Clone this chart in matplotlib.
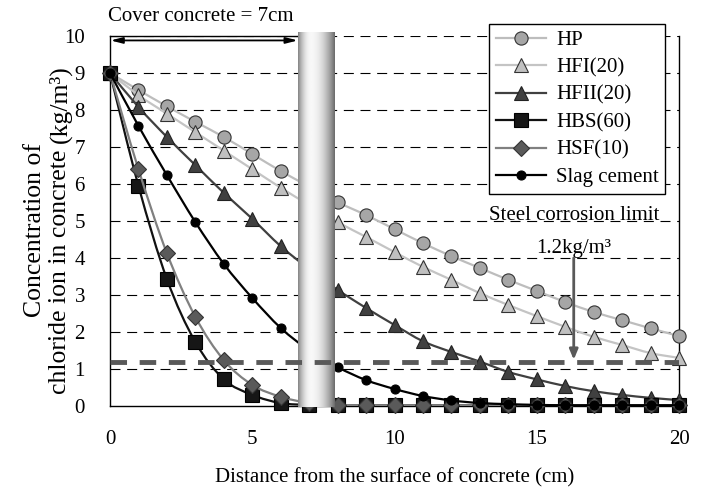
import matplotlib.pyplot as plt
import numpy as np
from matplotlib.lines import Line2D
from matplotlib.path import Path
from matplotlib.patches import PathPatch

plt.rcParams['font.family'] = ['Liberation Serif', 'DejaVu Serif']

distance = list(range(21))
hp = [9.0, 8.54, 8.10, 7.68, 7.27, 6.81, 6.35, 5.93, 5.51, 5.16, 4.78,
      4.40, 4.05, 3.73, 3.41, 3.11, 2.81, 2.54, 2.32, 2.10, 1.89]
hfi = [9.0, 8.40, 7.90, 7.40, 6.90, 6.40, 5.90, 5.43, 4.97, 4.57, 4.16,
       3.76, 3.41, 3.05, 2.73, 2.43, 2.14, 1.87, 1.65, 1.43, 1.30]
hfii = [9.0, 8.08, 7.27, 6.51, 5.76, 5.06, 4.32, 3.70, 3.14, 2.65, 2.19,
        1.75, 1.46, 1.20, 0.92, 0.72, 0.54, 0.40, 0.30, 0.22, 0.16]
hbs = [9.0, 5.95, 3.43, 1.73, 0.72, 0.30, 0.08, 0.03, 0.02, 0.02, 0.02,
       0.02, 0.02, 0.02, 0.02, 0.02, 0.02, 0.02, 0.02, 0.02, 0.02]
hsf = [9.0, 6.40, 4.13, 2.41, 1.24, 0.57, 0.25, 0.08, 0.03, 0.02, 0.02,
       0.02, 0.02, 0.02, 0.02, 0.02, 0.02, 0.02, 0.02, 0.02, 0.02]
slag = [9.0, 7.57, 6.24, 4.97, 3.84, 2.92, 2.11, 1.50, 1.05, 0.70, 0.46,
        0.27, 0.15, 0.08, 0.05, 0.03, 0.02, 0.02, 0.02, 0.02, 0.02]

labels = ['HP', 'HFI(20)', 'HFII(20)', 'HBS(60)', 'HSF(10)', 'Slag cement']
series = [hp, hfi, hfii, hbs, hsf, slag]
# line colour, marker, marker size, marker face, marker edge
styles = [
    ('#bdbdbd', 'o', 9.5, '#a6a6a6', '#333333'),
    ('#c4c4c4', '^', 10, '#c0c0c0', '#333333'),
    ('#404040', '^', 10, '#404040', '#222222'),
    ('#111111', 's', 9.5, '#161616', '#000000'),
    ('#808080', 'D', 8, '#5a5a5a', '#333333'),
    ('#000000', 'o', 6.5, '#000000', '#000000'),
]

limit = 1.2
cover = 7


def smooth_path(x, y):
    # Excel-like smoothed line (Catmull-Rom as cubic Bezier)
    pts = np.column_stack([x, y]).astype(float)
    n = len(pts)
    verts = [pts[0]]
    codes = [Path.MOVETO]
    for i in range(n - 1):
        p0 = pts[max(i - 1, 0)]
        p1 = pts[i]
        p2 = pts[i + 1]
        p3 = pts[min(i + 2, n - 1)]
        verts += [p1 + (p2 - p0) / 6, p2 - (p3 - p1) / 6, p2]
        codes += [Path.CURVE4] * 3
    return Path(verts, codes)


fig = plt.figure(figsize=(7.02, 4.90), dpi=100)
ax = fig.add_axes([110 / 702, 84 / 490, 569 / 702, 370 / 490])

handles = []
for k, (vals, lab, st) in enumerate(zip(series, labels, styles)):
    lc, mk, ms, mf, me = st
    ax.add_patch(PathPatch(smooth_path(distance, vals), fill=False,
                           edgecolor=lc, lw=1.6, zorder=3 + k * 0.1))
    ax.plot(distance, vals, ls='none', marker=mk, ms=ms, mfc=mf, mec=me,
            mew=0.8, zorder=3.05 + k * 0.1, clip_on=False)
    handles.append(Line2D([], [], color=lc, lw=1.6, marker=mk, ms=ms,
                          mfc=mf, mec=me, mew=0.8))

# steel corrosion limit
ax.plot([0, 20], [limit, limit], color='#595959', lw=3.5,
        ls=(0, (3.4, 2.6)), zorder=6)
ax.text(16.3, 5.16, 'Steel corrosion limit', ha='center', va='center',
        fontsize=15)
ax.text(16.3, 4.25, '1.2kg/m³', ha='center', va='center', fontsize=15)
ax.annotate('', xy=(16.3, limit + 0.05), xytext=(16.3, 4.0),
            arrowprops=dict(arrowstyle='-|>,head_length=0.6,head_width=0.25',
                            color='#595959', lw=2, shrinkA=0, shrinkB=0),
            zorder=7)

# cover concrete marker
t = np.linspace(0, 1, 80)
shade = np.where(t < 0.35, 0.97 - 0.45 * ((0.35 - t) / 0.35) ** 2,
                 0.97 - 0.55 * ((t - 0.35) / 0.65) ** 2)
ax.imshow(shade[np.newaxis, :], cmap='gray', vmin=0, vmax=1, aspect='auto',
          extent=[6.6, 7.9, -0.03, 10.08], zorder=5, clip_on=False,
          interpolation='bilinear')
ax.plot([0, 6.6], [10, 10], color='black', lw=1.0, zorder=4, clip_on=False)
ax.annotate('', xy=(0.02, 9.88), xytext=(6.6, 9.88),
            arrowprops=dict(arrowstyle='<|-|>,head_length=0.7,head_width=0.18',
                            color='black', lw=1.3, shrinkA=0, shrinkB=0))
ax.text(3.2, 10.54, 'Cover concrete = %dcm' % cover, ha='center',
        va='center', fontsize=15, clip_on=False)

ax.set_xlim(0, 20)
ax.set_ylim(0, 10)
ax.set_xticks([0, 5, 10, 15, 20])
ax.set_yticks(range(11))
ax.tick_params(length=0, labelsize=15)
ax.tick_params(axis='x', pad=17)
ax.tick_params(axis='y', pad=18)
for yv in range(1, 11):
    ax.axhline(yv, color='black', lw=0.8, ls=(0, (9, 6)), zorder=1)
ax.spines['top'].set_visible(False)
for s in ['left', 'bottom', 'right']:
    ax.spines[s].set_linewidth(1.0)

ax.set_xlabel('Distance from the surface of concrete (cm)', fontsize=15,
              labelpad=14)
ax.text(-0.132, 0.476, 'Concentration of', rotation=90, ha='center',
        va='center', fontsize=18.5, transform=ax.transAxes)
ax.text(-0.088, 0.362, 'chloride ion in concrete', rotation=90, ha='center',
        va='center', fontsize=18.5, transform=ax.transAxes)
ax.text(-0.088, 0.816, '(kg/m³)', rotation=90, ha='center', va='center',
        fontsize=18.5, transform=ax.transAxes)

leg = ax.legend(handles, labels, loc='upper right', fontsize=15,
                bbox_to_anchor=(665 / 702, 1 - 24 / 490),
                bbox_transform=fig.transFigure, borderaxespad=0,
                fancybox=False, framealpha=1, edgecolor='black',
                handlelength=2.4, handletextpad=0.5, labelspacing=0.38,
                borderpad=0.3)
leg.get_frame().set_linewidth(1.0)
leg.set_zorder(10)

fig.savefig('out.png', dpi=100)
